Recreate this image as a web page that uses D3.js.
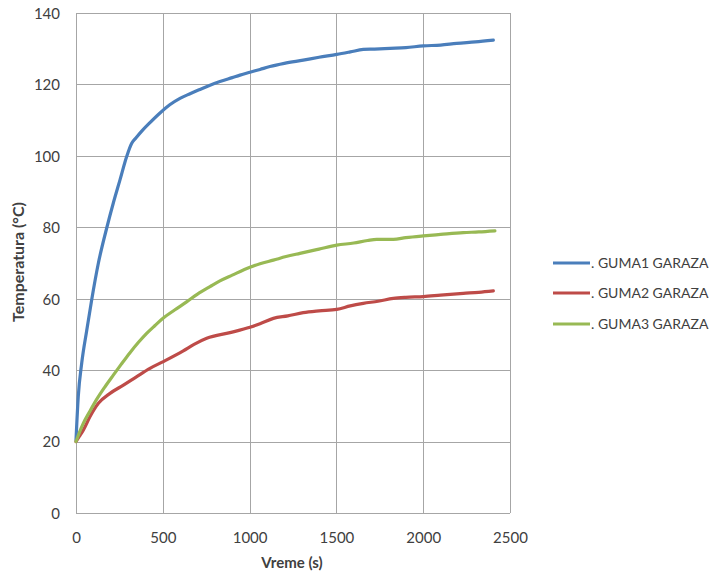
<!DOCTYPE html>
<html>
<head>
<meta charset="utf-8">
<script src="https://cdn.jsdelivr.net/npm/d3@7"></script>
<style>
  html, body { margin: 0; padding: 0; background: #fff; }
  svg { display: block; }
  text { font-family: Lato, "Open Sans", sans-serif; fill: #404040; }
</style>
</head>
<body>
<script>
// ---- Data ----
const seriesNames = [". GUMA1 GARAZA", ". GUMA2 GARAZA", ". GUMA3 GARAZA"];
const seriesColors = ["#4a7ebb", "#be4b48", "#98b954"];

const guma1Time = [0, 13, 33, 62, 90, 129, 177, 215, 253, 292, 321, 345, 380, 420, 484, 540, 599, 657, 714, 772, 829, 900, 945, 1002, 1060, 1117, 1200, 1309, 1400, 1502, 1580, 1655, 1720, 1809, 1900, 2001, 2100, 2193, 2300, 2404];
const guma1Temp = [20.4, 32.6, 42, 51.2, 59.6, 70, 79.8, 86.8, 93.2, 99.8, 103.5, 105.0, 107.0, 109.0, 112.0, 114.3, 116.1, 117.4, 118.6, 119.8, 120.8, 121.9, 122.6, 123.4, 124.2, 125.0, 125.9, 126.8, 127.6, 128.4, 129.1, 129.8, 129.9, 130.1, 130.3, 130.8, 131.0, 131.5, 131.9, 132.4];

const guma2Time = [0, 20, 42, 81, 129, 196, 273, 350, 426, 503, 618, 680, 753, 887, 1002, 1060, 1137, 1220, 1309, 1400, 1502, 1580, 1655, 1740, 1828, 1900, 2001, 2100, 2231, 2320, 2404];
const guma2Temp = [20, 21.5, 23.2, 27, 30.7, 33.5, 35.8, 38.2, 40.5, 42.4, 45.4, 47.2, 48.9, 50.5, 52, 53.0, 54.5, 55.2, 56.1, 56.6, 57, 58.0, 58.7, 59.3, 60.1, 60.4, 60.6, 61.0, 61.5, 61.8, 62.2];

const guma3Time = [0, 20, 42, 80, 119, 165, 215, 260, 311, 360, 407, 455, 503, 570, 637, 700, 772, 829, 900, 1002, 1060, 1137, 1210, 1290, 1400, 1502, 1600, 1680, 1732, 1828, 1900, 2001, 2100, 2231, 2320, 2413];
const guma3Temp = [20, 22.6, 25.1, 28.5, 31.8, 35.2, 38.6, 41.6, 44.9, 47.8, 50.3, 52.5, 54.6, 56.9, 59.1, 61.3, 63.4, 65.0, 66.6, 68.8, 69.8, 70.8, 71.8, 72.7, 73.9, 75, 75.6, 76.3, 76.6, 76.6, 77.1, 77.6, 78.0, 78.5, 78.7, 79];

const xTicks = [0, 500, 1000, 1500, 2000, 2500];
const yTicks = [0, 20, 40, 60, 80, 100, 120, 140];
const xTitle = "Vreme (s)";
const yTitle = "Temperatura (°C)";

// ---- Chart ----
const W = 720, H = 574;
const svg = d3.select("body").append("svg").attr("width", W).attr("height", H);

const x = d3.scaleLinear().domain([0, 2500]).range([76, 510]);
const y = d3.scaleLinear().domain([0, 140]).range([513, 13]);

// gridlines
const grid = svg.append("g").attr("stroke", "#a6a6a6").attr("stroke-width", 1).attr("shape-rendering", "crispEdges");
grid.selectAll("line.h").data(yTicks).join("line")
  .attr("x1", x(0)).attr("x2", x(2500))
  .attr("y1", d => Math.round(y(d)) + 0.5).attr("y2", d => Math.round(y(d)) + 0.5);
grid.selectAll("line.v").data(xTicks).join("line")
  .attr("x1", d => Math.round(x(d)) + 0.5).attr("x2", d => Math.round(x(d)) + 0.5)
  .attr("y1", y(140)).attr("y2", y(0));

// axis tick labels via d3 axes
const xAxis = d3.axisBottom(x).tickValues(xTicks).tickSize(0).tickPadding(0).tickFormat(d3.format("d"));
const gx = svg.append("g").attr("transform", `translate(0, ${y(0)})`).call(xAxis);
gx.select(".domain").remove();
gx.selectAll("text").attr("dy", null).attr("y", 30).style("font-size", "15px").attr("fill", "#404040");
gx.attr("font-family", null);

const yAxis = d3.axisLeft(y).tickValues(yTicks).tickSize(0).tickPadding(0).tickFormat(d3.format("d"));
const gy = svg.append("g").attr("transform", `translate(60, 0)`).call(yAxis);
gy.select(".domain").remove();
gy.selectAll("text").attr("x", 0).attr("dy", "0.36em").style("font-size", "15px").attr("fill", "#404040");
gy.attr("font-family", null);

// series
const series = [
  { t: guma1Time, v: guma1Temp },
  { t: guma2Time, v: guma2Temp },
  { t: guma3Time, v: guma3Temp }
];
const line = d3.line().x(d => x(d[0])).y(d => y(d[1])).curve(d3.curveMonotoneX);
series.forEach((s, i) => {
  const pts = s.t.map((t, k) => [t, s.v[k]]);
  svg.append("path").datum(pts)
    .attr("fill", "none").attr("stroke", seriesColors[i]).attr("stroke-width", 3.2)
    .attr("stroke-linejoin", "round").attr("stroke-linecap", "round")
    .attr("d", line);
});

// axis titles
svg.append("text").attr("x", 292).attr("y", 568).attr("text-anchor", "middle")
  .style("font-size", "15px").style("font-weight", "bold").text(xTitle);
svg.append("text").attr("transform", "translate(24, 262) rotate(-90)").attr("text-anchor", "middle")
  .style("font-size", "16px").style("font-weight", "bold").text(yTitle);

// legend
const legY = [263, 293, 324];
seriesNames.forEach((n, i) => {
  svg.append("line").attr("x1", 553).attr("x2", 590).attr("y1", legY[i]).attr("y2", legY[i])
    .attr("stroke", seriesColors[i]).attr("stroke-width", 3.2);
  svg.append("text").attr("x", 591).attr("y", legY[i]).attr("dy", "0.36em")
    .style("font-size", "14px").text(n);
});
</script>
</body>
</html>
